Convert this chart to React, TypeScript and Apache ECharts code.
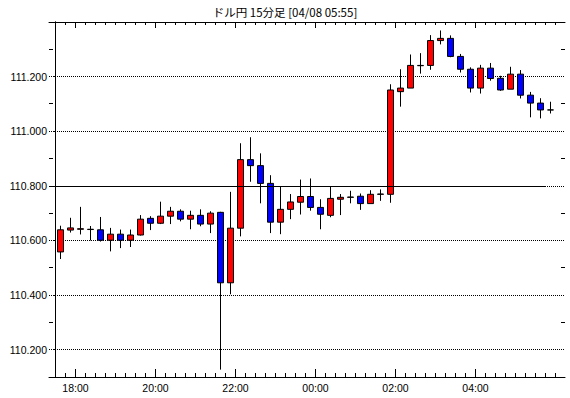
import React, { useEffect, useRef } from "react";
import * as echarts from "echarts";

const title = "ドル円 15分足 [04/08 05:55]";

const times = [
  "17:30", "17:45", "18:00", "18:15", "18:30", "18:45", "19:00", "19:15",
  "19:30", "19:45", "20:00", "20:15", "20:30", "20:45", "21:00", "21:15",
  "21:30", "21:45", "22:00", "22:15", "22:30", "22:45", "23:00", "23:15",
  "23:30", "23:45", "00:00", "00:15", "00:30", "00:45", "01:00", "01:15",
  "01:30", "01:45", "02:00", "02:15", "02:30", "02:45", "03:00", "03:15",
  "03:30", "03:45", "04:00", "04:15", "04:30", "04:45", "05:00", "05:15",
  "05:30", "05:45",
];

const open = [
  110.558, 110.638, 110.641, 110.640, 110.639, 110.601, 110.623, 110.601,
  110.620, 110.681, 110.663, 110.689, 110.707, 110.678, 110.692, 110.660,
  110.703, 110.445, 110.645, 110.896, 110.874, 110.809, 110.667, 110.714,
  110.740, 110.761, 110.721, 110.692, 110.751, 110.758, 110.762, 110.735,
  110.769, 110.769, 111.145, 111.158, 111.240, 111.241, 111.332, 111.340,
  111.274, 111.227, 111.158, 111.231, 111.194, 111.154, 111.209, 111.132,
  111.103, 111.078,
];

const close = [
  110.639, 110.646, 110.643, 110.641, 110.601, 110.623, 110.601, 110.620,
  110.678, 110.663, 110.689, 110.707, 110.678, 110.692, 110.660, 110.700,
  110.445, 110.645, 110.896, 110.874, 110.809, 110.667, 110.714, 110.741,
  110.761, 110.721, 110.696, 110.754, 110.758, 110.759, 110.735, 110.769,
  110.770, 111.151, 111.158, 111.241, 111.241, 111.332, 111.340, 111.274,
  111.227, 111.158, 111.231, 111.193, 111.151, 111.209, 111.132, 111.103,
  111.078, 111.078,
];

const low = [
  110.532, 110.629, 110.622, 110.600, 110.596, 110.560, 110.572, 110.576,
  110.618, 110.638, 110.660, 110.660, 110.670, 110.641, 110.652, 110.627,
  110.127, 110.403, 110.615, 110.815, 110.736, 110.627, 110.623, 110.678,
  110.695, 110.709, 110.641, 110.685, 110.693, 110.736, 110.712, 110.735,
  110.745, 110.738, 111.090, 111.158, 111.211, 111.225, 111.318, 111.271,
  111.215, 111.142, 111.138, 111.185, 111.148, 111.154, 111.120, 111.051,
  111.047, 111.065,
];

const high = [
  110.654, 110.683, 110.723, 110.653, 110.686, 110.646, 110.640, 110.640,
  110.693, 110.689, 110.742, 110.723, 110.714, 110.709, 110.714, 110.707,
  110.705, 110.778, 110.956, 110.978, 110.919, 110.839, 110.796, 110.770,
  110.823, 110.827, 110.751, 110.796, 110.770, 110.782, 110.772, 110.784,
  110.787, 111.172, 111.227, 111.281, 111.286, 111.352, 111.369, 111.351,
  111.283, 111.234, 111.243, 111.250, 111.203, 111.236, 111.224, 111.144,
  111.121, 111.108,
];

const xTickLabels = ["18:00", "20:00", "22:00", "00:00", "02:00", "04:00"];
const yLabelValues = [110.2, 110.4, 110.6, 110.8, 111.0, 111.2];
const yMinorValues = [110.3, 110.5, 110.7, 110.9, 111.1, 111.3];
const refLevel = 110.797;
const yMin = 110.1;
const yMax = 111.4;

const FONT = "Liberation Sans";

export default function App() {
  const ref = useRef<HTMLDivElement>(null);

  useEffect(() => {
    const chart = echarts.init(ref.current!, null, { renderer: "svg" });
    const n = times.length;
    const candles = times.map((_, i) => [i + 0.5, open[i], close[i], low[i], high[i]]);
    const boundaries = Array.from({ length: n + 1 }, (_, i) => i);
    const majors = xTickLabels.map((l) => times.indexOf(l));
    const xMin = -0.65;
    const xMax = n + 0.95;
    const crisp = (v: number) => Math.round(v - 0.5) + 0.5;
    const tickStyle = { stroke: "#000", lineWidth: 1 };

    chart.setOption({
      animation: false,
      backgroundColor: "#fff",
      title: {
        text: title,
        left: "center",
        top: 6,
        padding: 0,
        textStyle: {
          fontSize: 11.5,
          fontWeight: "normal",
          color: "#000",
          fontFamily: "Noto Sans CJK JP",
        },
      },
      grid: { left: 49, right: 5, top: 22, bottom: 21 },
      xAxis: [
        {
          type: "value",
          position: "bottom",
          min: xMin,
          max: xMax,
          axisLine: { show: true, lineStyle: { color: "#000", width: 1 } },
          axisTick: { show: false },
          splitLine: { show: false },
          axisLabel: {
            show: true,
            customValues: majors,
            formatter: (v: number) => times[Math.round(v)] ?? "",
            margin: 5,
            fontSize: 10.5,
            fontFamily: FONT,
            color: "#000",
          },
        },
        {
          type: "value",
          position: "top",
          min: xMin,
          max: xMax,
          axisLine: { show: true, lineStyle: { color: "#000", width: 1 } },
          axisTick: { show: false },
          axisLabel: { show: false },
          splitLine: { show: false },
        },
      ],
      yAxis: [
        {
          type: "value",
          position: "left",
          min: yMin,
          max: yMax,
          axisLine: { show: true, lineStyle: { color: "#000", width: 1 } },
          axisTick: { show: true, inside: false, length: 2, customValues: yLabelValues, lineStyle: { color: "#000" } },
          axisLabel: {
            show: true,
            customValues: yLabelValues,
            formatter: (v: number) => v.toFixed(3),
            margin: 2,
            fontSize: 10.5,
            fontFamily: FONT,
            color: "#000",
          },
          splitLine: { show: true, lineStyle: { color: "#000", width: 1, type: [1, 1] } },
        },
        {
          type: "value",
          position: "right",
          min: yMin,
          max: yMax,
          axisLine: { show: true, lineStyle: { color: "#000", width: 1 } },
          axisTick: { show: false },
          axisLabel: { show: false },
          splitLine: { show: false },
        },
      ],
      series: [
        {
          type: "candlestick",
          xAxisIndex: 0,
          yAxisIndex: 0,
          data: candles,
          encode: { x: 0, y: [1, 2, 3, 4] },
          barWidth: 6,
          silent: true,
          itemStyle: {
            color: "#ff0000",
            color0: "#0000ff",
            borderColor: "#000",
            borderColor0: "#000",
            borderColorDoji: "#000",
            borderWidth: 1,
          },
          emphasis: { disabled: true },
          markLine: {
            silent: true,
            symbol: ["none", "none"],
            label: { show: false },
            lineStyle: { color: "#000", type: "solid", width: 1 },
            data: [[{ coord: [xMin, refLevel] }, { coord: [n - 1, refLevel] }]],
          },
        },
        {
          // x-axis tick marks (bottom and top) at every 15-minute boundary
          type: "custom",
          xAxisIndex: 0,
          yAxisIndex: 0,
          silent: true,
          clip: false,
          data: boundaries.map((b) => [b, yMin]),
          encode: { x: 0, y: 1 },
          renderItem: (params: any, api: any) => {
            const b = api.value(0);
            const isMajor = majors.indexOf(b) >= 0;
            const bot = api.coord([b, yMin]);
            const top = api.coord([b, yMax]);
            const x = crisp(bot[0]);
            const lb = isMajor ? 8 : 4;
            const lt = isMajor ? 6 : 3;
            return {
              type: "group",
              children: [
                { type: "line", shape: { x1: x, y1: bot[1], x2: x, y2: bot[1] - lb }, style: tickStyle },
                { type: "line", shape: { x1: x, y1: top[1], x2: x, y2: top[1] + lt }, style: tickStyle },
              ],
            };
          },
        },
        {
          // y-axis minor tick marks (left and right, inside)
          type: "custom",
          xAxisIndex: 0,
          yAxisIndex: 0,
          silent: true,
          clip: false,
          data: yMinorValues.map((v) => [xMin, v]),
          encode: { x: 0, y: 1 },
          renderItem: (params: any, api: any) => {
            const v = api.value(1);
            const l = api.coord([xMin, v]);
            const r = api.coord([xMax, v]);
            const y = crisp(l[1]);
            return {
              type: "group",
              children: [
                { type: "line", shape: { x1: l[0], y1: y, x2: l[0] + 4, y2: y }, style: tickStyle },
                { type: "line", shape: { x1: r[0], y1: y, x2: r[0] - 4, y2: y }, style: tickStyle },
              ],
            };
          },
        },
      ],
    });

    return () => chart.dispose();
  }, []);

  return (
    <div
      ref={ref}
      style={{ position: "absolute", left: 0, top: 0, width: 570, height: 398 }}
    />
  );
}
